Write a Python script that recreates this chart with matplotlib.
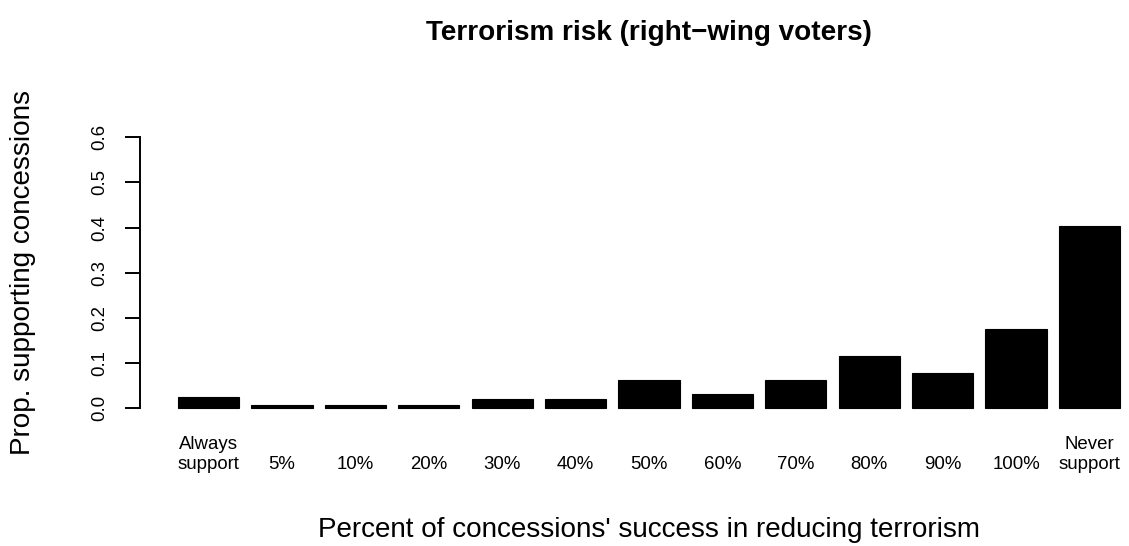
import numpy as np
from matplotlib import pyplot as plt

plt.rcParams['font.family'] = ['Liberation Sans', 'DejaVu Sans']

### data
categories = ['Always\nsupport', '5%', '10%', '20%', '30%', '40%', '50%', '60%',
              '70%', '80%', '90%', '100%', 'Never\nsupport']
prop_support = [0.0257, 0.0073, 0.0073, 0.0073, 0.0210, 0.0199, 0.0627, 0.0310,
                0.0627, 0.1158, 0.0775, 0.1756, 0.4043]
yticks = [0.0, 0.1, 0.2, 0.3, 0.4, 0.5, 0.6]

### R style barplot positions: width 1, space 0.2
n = len(prop_support)
lefts = 0.2 + 1.2 * np.arange(n)
centers = lefts + 0.5

fig = plt.figure(figsize=(11.29, 5.46), dpi=100)
### plot region runs a bit past the right edge, as in the original
ax = fig.add_axes([0.12436, 0.23242, 0.90107, 0.53608])

ax.bar(lefts, prop_support, width=1.0, align='edge', color='black', edgecolor='black', linewidth=0.8)

ax.set_xlim(-0.416, 16.216)
ax.set_ylim(-0.024, 0.624)

for s in ['top', 'right', 'bottom']:
    ax.spines[s].set_visible(False)
ax.spines['left'].set_bounds(0, 0.6)
ax.spines['left'].set_linewidth(1.4)

ax.set_yticks(yticks)
ax.set_yticklabels([f'{v:.1f}' for v in yticks])
ax.tick_params(axis='y', length=11, width=1.4, pad=12.5, labelsize=13.4, labelrotation=90)
for lab in ax.get_yticklabels():
    lab.set_verticalalignment('center')

ax.set_xticks(centers)
ax.set_xticklabels(categories)
ax.tick_params(axis='x', length=0, pad=38.9, labelsize=13.4)
for lab in ax.get_xticklabels():
    lab.set_verticalalignment('bottom')
    lab.set_linespacing(1.25)

ax.set_ylabel('Prop. supporting concessions', fontsize=20.1)
ax.yaxis.set_label_coords(-0.1026, 0.5)

ax.set_xlabel("Percent of concessions' success in reducing terrorism", fontsize=20.1)
ax.xaxis.label.set_verticalalignment('baseline')
ax.xaxis.set_label_coords(0.5, -0.4028)

ax.set_title('Terrorism risk (right\u2212wing voters)', fontsize=20.1, fontweight='bold', y=1.2952, pad=0)

plt.savefig('out.png', dpi=100)
